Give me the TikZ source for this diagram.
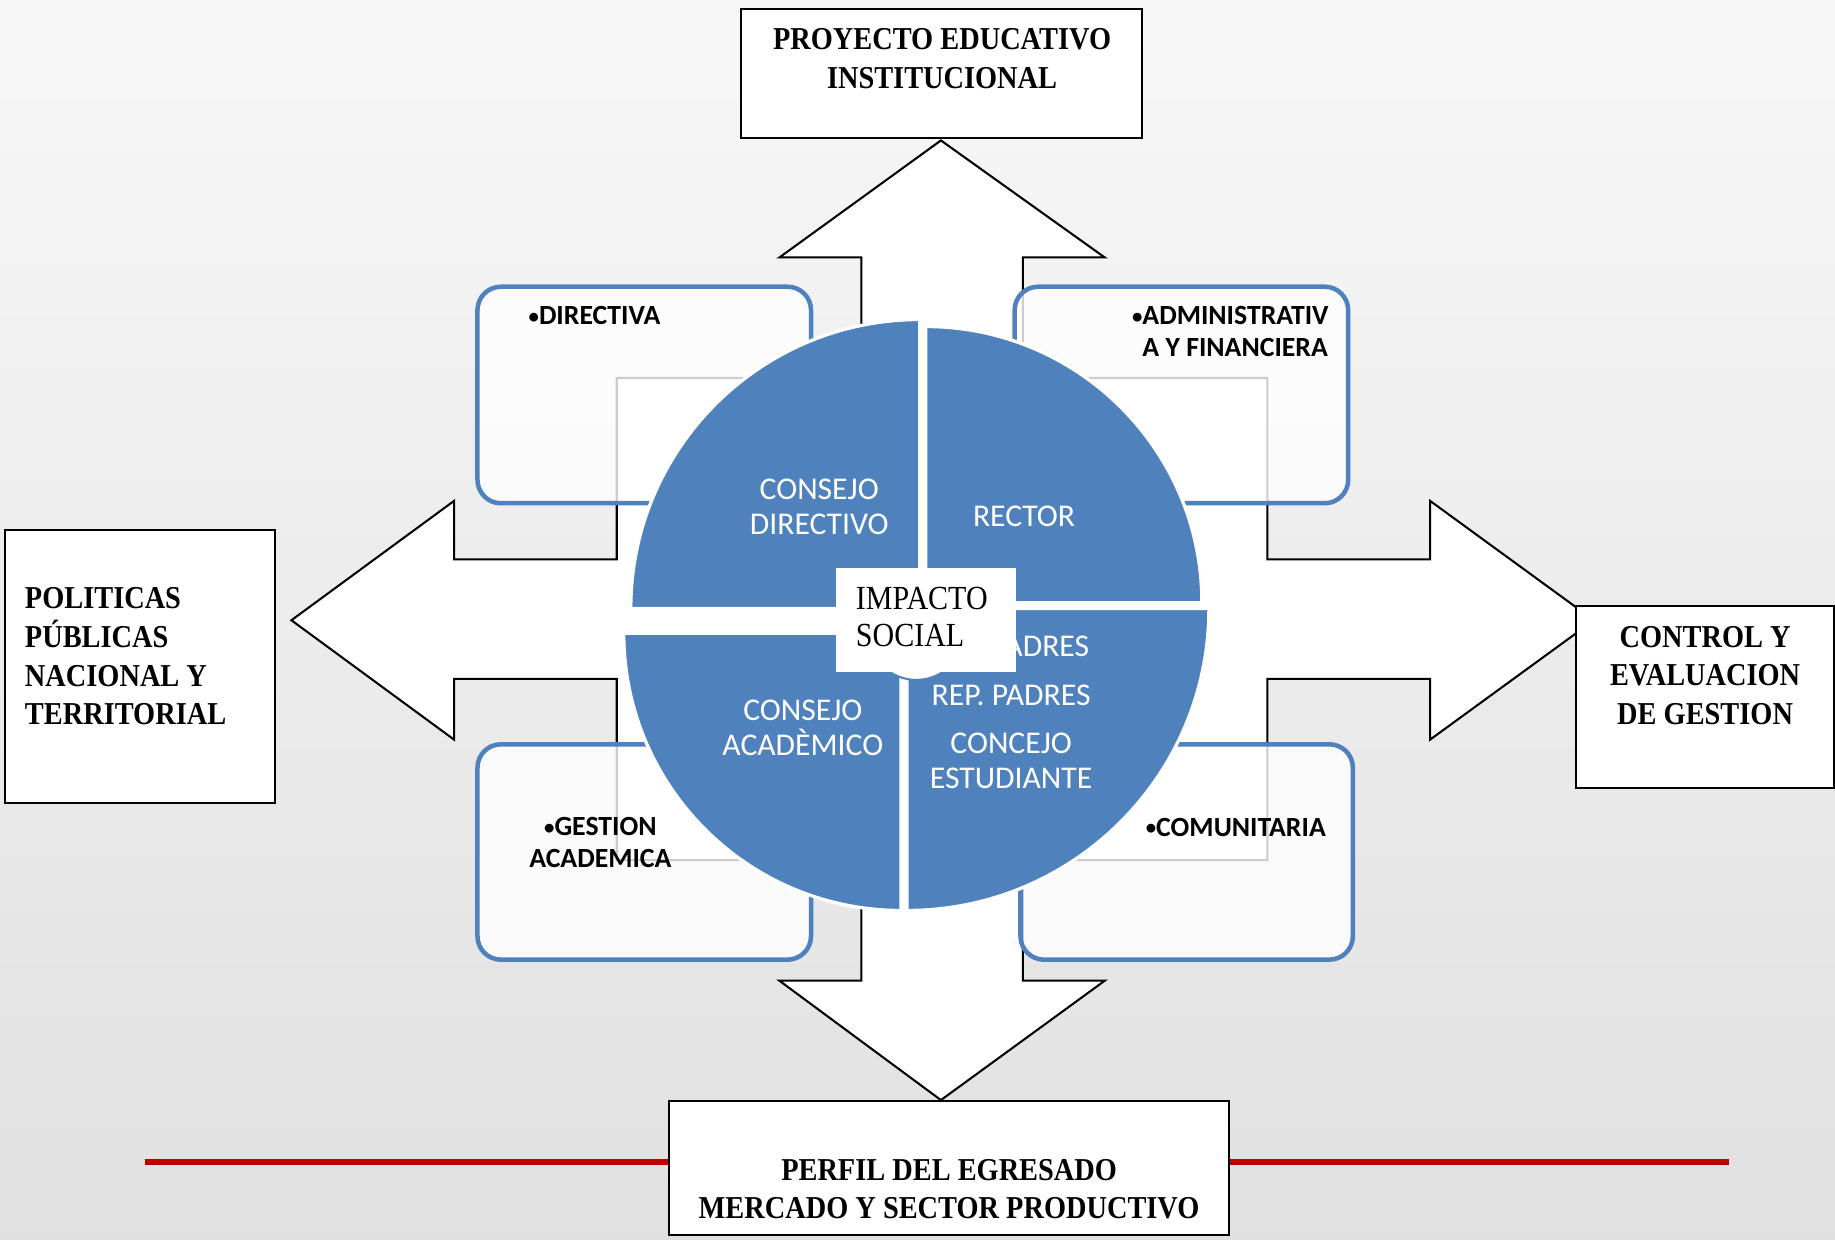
\documentclass[tikz,border=0pt]{standalone}
\usepackage{fontspec}
\setmainfont[FakeStretch=0.89]{Liberation Serif}
\newfontfamily\calibri{Carlito}
\definecolor{azul}{RGB}{79,129,189}
\definecolor{rojo}{RGB}{192,0,0}
\newcommand\punto{\raisebox{0.12ex}{\scalebox{0.75}{\textbullet}}}
\begin{document}
\begin{tikzpicture}[x=0.02cm,y=-0.02cm,
  caja/.style={draw=black,fill=white,line width=1pt},
  area/.style={draw=azul,line width=2.2pt,fill=white,fill opacity=0.8,rounded corners=0.4cm},
  cuarto/.style={fill=azul,draw=white,line width=1.6pt},
  titulo/.style={font=\bfseries\fontsize{15.5}{18.8}\selectfont,align=center,inner sep=0pt},
  rotulo/.style={font=\calibri\bfseries\fontsize{13.5}{15.4}\selectfont,align=center,inner sep=0pt},
  blanco/.style={font=\calibri\fontsize{15.4}{17}\selectfont,text=white,align=center,inner sep=0pt}]
 \useasboundingbox (0,0) rectangle (1568,1059);
 \shade[top color=gray!6,bottom color=gray!24] (0,0) rectangle (1568,1059);
 \draw[rojo,line width=2.8pt] (124,993) -- (1477,993);
 \draw[fill=white,line width=1pt] (804,120) -- (944,220) -- (874,220) -- (874,323) -- (1083,323) -- (1083,478)
   -- (1222,478) -- (1222,428) -- (1362,530) -- (1222,632) -- (1222,580) -- (1083,580) -- (1083,735)
   -- (874,735) -- (874,838) -- (944,838) -- (804,940) -- (666,838) -- (736,838) -- (736,735)
   -- (527,735) -- (527,580) -- (388,580) -- (388,632) -- (249,530) -- (388,428) -- (388,478)
   -- (527,478) -- (527,323) -- (736,323) -- (736,220) -- (666,220) -- cycle;
 \draw[area] (408,245) rectangle (693,430);
 \draw[area] (867,245) rectangle (1152,430);
 \draw[area] (408,636) rectangle (693,820);
 \draw[area] (872,636) rectangle (1156,820);
 \node[rotulo] (directiva) at (508,270) {\punto DIRECTIVA};
 \node[rotulo,align=left,anchor=west] (admin) at (967,283.5) {\punto ADMINISTRATIV\\\phantom{\punto}A Y FINANCIERA};
 \node[rotulo] (gestion) at (513,720) {\punto GESTION\\ACADEMICA};
 \node[rotulo] (comunitaria) at (1056,707) {\punto COMUNITARIA};
 \draw[caja] (633,8) rectangle (976,118);
 \draw[caja] (4,453) rectangle (235,686);
 \draw[caja] (1347,518) rectangle (1567,673);
 \draw[caja] (572,941) rectangle (1050,1055);
 \node[titulo] (pei) at (805,50) {PROYECTO EDUCATIVO\\INSTITUCIONAL};
 \node[titulo,align=left,anchor=west] (politicas) at (21,561) {POLITICAS\\PÚBLICAS\\NACIONAL Y\\TERRITORIAL};
 \node[titulo] (control) at (1457,577) {CONTROL Y\\EVALUACION\\DE GESTION};
 \node[titulo] (perfil) at (811,1016) {PERFIL DEL EGRESADO\\MERCADO Y SECTOR PRODUCTIVO};
 \filldraw[cuarto] (786,520) -- ++(180:247) arc[start angle=180,end angle=270,radius=247] -- cycle;
 \filldraw[cuarto] (791,515) -- ++(270:236) arc[start angle=270,end angle=360,radius=236] -- cycle;
 \filldraw[cuarto] (775,520) -- ++(0:258) arc[start angle=0,end angle=90,radius=258] -- cycle;
 \filldraw[cuarto] (770,541) -- ++(90:237) arc[start angle=90,end angle=180,radius=237] -- cycle;
 \node[blanco] (cdirectivo) at (700,433) {CONSEJO\\DIRECTIVO};
 \node[blanco] (rector) at (875,441) {RECTOR};
 \node[blanco] (cacademico) at (686,622) {CONSEJO\\ACADÈMICO};
 \node[blanco,anchor=east] (padres) at (931,552) {PADRES};
 \node[blanco] (rep) at (864,594) {REP. PADRES};
 \node[blanco] (estudiante) at (864,650) {CONCEJO\\ESTUDIANTE};
 \filldraw[fill=white,draw=azul,line width=1pt] (783,540) circle[radius=41];
 \fill[white] (714,485) rectangle (868,574);
 \node[font=\fontsize{16.4}{18.2}\selectfont,align=left,anchor=west,inner sep=0pt] (impacto) at (731,527) {IMPACTO\\SOCIAL};
\end{tikzpicture}
\end{document}
